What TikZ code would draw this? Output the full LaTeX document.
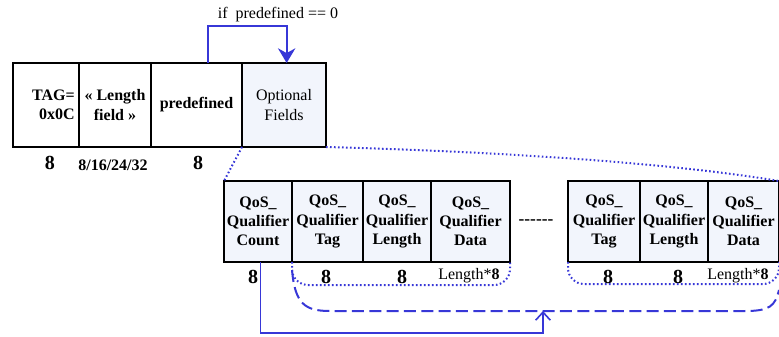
\documentclass[tikz,border=0pt]{standalone}
\usepackage{fontspec}
\setmainfont{Liberation Serif}
\usetikzlibrary{arrows.meta,positioning}

\definecolor{lnblue}{RGB}{55,55,215}
\definecolor{dotfill}{RGB}{242,245,252}

\begin{document}
\begin{tikzpicture}[
  x=0.75pt, y=-0.75pt,
  font=\fontsize{12}{14.4}\selectfont,
  node distance=0pt,
  fld/.style={draw, line width=1.3pt, minimum height=63pt, inner sep=0pt, outer sep=0pt,
              align=center, font=\fontsize{12}{14.4}\selectfont\bfseries},
  optfld/.style={fld, fill=dotfill, font=\fontsize{12}{14.4}\selectfont},
  qfld/.style={draw, line width=1.2pt, fill=dotfill, minimum height=60.75pt,
               inner sep=0pt, outer sep=0pt, align=center,
               font=\fontsize{12}{14.4}\selectfont\bfseries},
  bits/.style={font=\fontsize{15}{15}\selectfont\bfseries, inner sep=0pt},
  lenlbl/.style={font=\fontsize{12}{12}\selectfont, inner sep=0pt},
  barr/.style={lnblue, line width=1.5pt, -{Stealth[length=11pt, width=13pt]}},
  carr/.style={lnblue, line width=1.2pt, -{Straight Barb[length=6pt, width=11pt]}},
  dotln/.style={lnblue, line width=1.5pt, dash pattern=on 1.2pt off 1.8pt},
  dashln/.style={lnblue, line width=1.5pt, dash pattern=on 9pt off 4pt},
]
\useasboundingbox (0,0) rectangle (779,336);

% ---------------- Header fields (top row) ----------------
\node[fld, minimum width=49.5pt, text width=43pt, align=right] (tag) at (46,105) {TAG=\\0x0C};
\node[fld, minimum width=54pt, right=of tag] (len) {« Length\\field »};
\node[fld, minimum width=68.25pt, right=of len] (pre) {predefined};
\node[optfld, minimum width=63pt, right=of pre] (opt) {Optional\\Fields};

\node[bits] (b1) at (50,163) {8};
\node[font=\fontsize{12}{12}\selectfont\bfseries, inner sep=0pt] (b2) at (113,165) {8/16/24/32};
\node[bits] (b3) at (198,163) {8};

\node (cond) at (278,15) {if\ \ predefined == 0};
\draw[barr] ([xshift=8.6pt]pre.north) -- ++(0,-37) -| ([xshift=2pt]opt.north);

% ---------------- Optional fields (bottom row) ----------------
\node[qfld, minimum width=51pt] (cnt) at (258,221.5) {QoS\_\\Qualifier\\Count};
\node[qfld, minimum width=53.25pt, right=of cnt] (tg1) {QoS\_\\Qualifier\\Tag};
\node[qfld, minimum width=51pt, right=of tg1] (ln1) {QoS\_\\Qualifier\\Length};
\node[qfld, minimum width=59.25pt, right=of ln1] (dt1) {QoS\_\\Qualifier\\Data};

\node[font=\fontsize{13}{13}\selectfont\bfseries, inner sep=0pt] (gap) at (536,222) {-{}-{}-{}-{}-{}-};

\node[qfld, minimum width=54pt] (tg2) at (604,221.5) {QoS\_\\Qualifier\\Tag};
\node[qfld, minimum width=51pt, right=of tg2] (ln2) {QoS\_\\Qualifier\\Length};
\node[qfld, minimum width=53.25pt, right=of ln2] (dt2) {QoS\_\\Qualifier\\Data};

\node[bits] (c1) at (253,277) {8};
\node[bits] (c2) at (326,277) {8};
\node[bits] (c3) at (402,277) {8};
\node[lenlbl] (c4) at (469,276) {Length*\textbf{8}};
\node[bits] (c5) at (608,277) {8};
\node[bits] (c6) at (678,277) {8};
\node[lenlbl] (c7) at (738,276) {Length*\textbf{8}};

% zoom lines
\draw[dotln] (opt.south west) -- (cnt.north west);
\draw[dotln] (opt.south east) .. controls +(150,4) and +(-120,-20) .. (dt2.north east);

% braces under the repeated group
\draw[dotln, rounded corners=12pt] (tg1.south west) -- ++(0,23) -| (dt1.south east);
\draw[dotln, rounded corners=12pt] (tg2.south west) -- ++(0,22) -| (dt2.south east);

% repetition count
\coordinate (dsh1) at (330,311);
\coordinate (dsh2) at (745,311);
\coordinate (hit) at (543,311);
\draw[dashln] ([yshift=-6pt]tg1.south west) .. controls +(3,34) and +(-25,0) .. (dsh1)
  -- (dsh2) .. controls +(25,0) and +(-4,16) .. ([yshift=-21pt]dt2.south east);
\draw[carr] ([xshift=2pt]cnt.south) -- ++(0,71) -| (hit);

\end{tikzpicture}
\end{document}
